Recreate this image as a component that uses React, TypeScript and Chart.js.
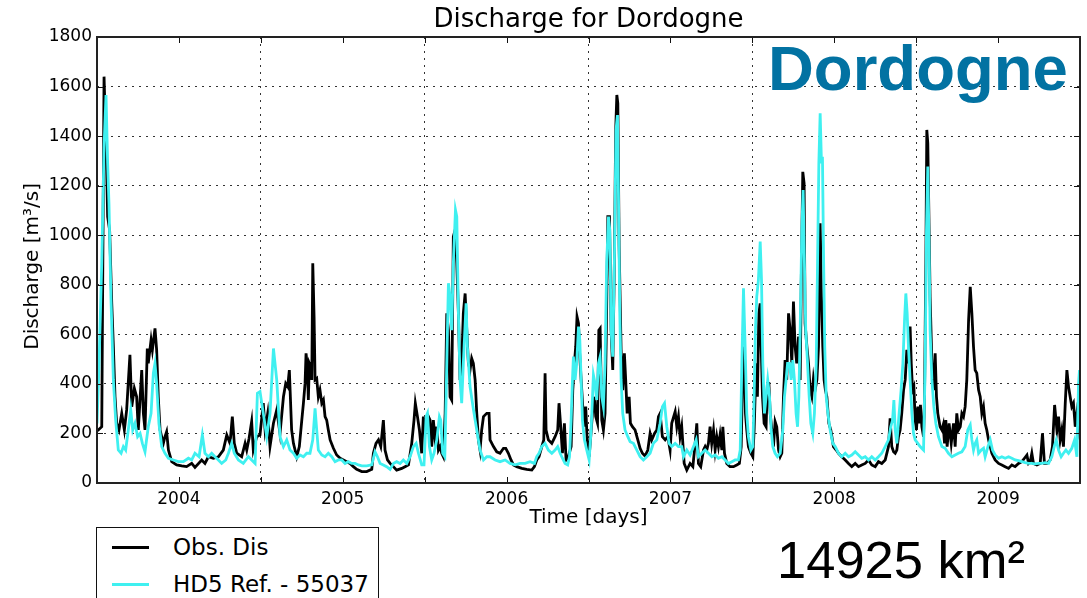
import React, { useEffect, useRef } from 'react';
import { Chart, registerables } from 'chart.js';

Chart.register(...registerables);

// ---- data (decimal year, discharge m³/s) ----
const YEAR_LABELS = ['2004', '2005', '2006', '2007', '2008', '2009'];
const Y_MIN = 0;
const Y_MAX = 1800;
const Y_STEP = 200;

const OBS_DIS: [number, number][] = [
  [2004.000,210],[2004.008,214],[2004.029,227],[2004.043,1640],[2004.059,1263],[2004.065,1075],[2004.077,1021],[2004.090,725],[2004.100,550],[2004.110,348],[2004.120,241],[2004.134,214],[2004.151,281],[2004.167,214],[2004.181,295],[2004.201,517],[2004.212,308],[2004.228,382],[2004.242,348],[2004.252,214],[2004.273,456],[2004.283,281],[2004.293,214],[2004.307,543],[2004.313,483],[2004.330,577],[2004.338,537],[2004.354,624],[2004.364,537],[2004.374,348],[2004.385,214],[2004.405,160],[2004.415,187],[2004.425,207],[2004.436,133],[2004.456,86],[2004.486,73],[2004.517,69],[2004.547,66],[2004.578,79],[2004.598,63],[2004.639,93],[2004.659,79],[2004.680,106],[2004.710,100],[2004.741,106],[2004.771,133],[2004.792,194],[2004.812,160],[2004.826,268],[2004.838,160],[2004.853,120],[2004.883,106],[2004.904,160],[2004.914,133],[2004.928,180],[2004.944,248],[2004.954,133],[2004.975,187],[2004.995,194],
  [2005.015,322],[2005.026,214],[2005.042,281],[2005.056,147],[2005.077,241],[2005.097,295],[2005.117,200],[2005.138,348],[2005.152,402],[2005.164,389],[2005.174,456],[2005.188,214],[2005.199,160],[2005.219,106],[2005.235,147],[2005.250,254],[2005.260,322],[2005.270,402],[2005.276,523],[2005.284,470],[2005.290,335],[2005.296,483],[2005.304,470],[2005.311,416],[2005.317,887],[2005.325,671],[2005.331,416],[2005.341,422],[2005.351,348],[2005.361,375],[2005.372,322],[2005.382,335],[2005.392,268],[2005.402,254],[2005.412,214],[2005.423,174],[2005.443,140],[2005.463,113],[2005.484,100],[2005.504,93],[2005.524,86],[2005.545,79],[2005.565,66],[2005.585,55],[2005.616,46],[2005.646,46],[2005.677,55],[2005.687,120],[2005.703,160],[2005.718,174],[2005.732,147],[2005.748,254],[2005.758,133],[2005.773,93],[2005.789,79],[2005.809,66],[2005.829,52],[2005.860,59],[2005.880,66],[2005.901,73],[2005.921,160],[2005.935,254],[2005.943,322],[2005.956,268],[2005.968,214],[2005.982,120],[2005.992,268],
  [2006.002,214],[2006.013,254],[2006.023,268],[2006.033,254],[2006.043,147],[2006.053,254],[2006.064,174],[2006.074,227],[2006.084,133],[2006.094,147],[2006.104,120],[2006.114,106],[2006.125,281],[2006.135,685],[2006.145,617],[2006.155,348],[2006.165,335],[2006.175,994],[2006.186,1021],[2006.196,887],[2006.206,685],[2006.216,416],[2006.226,483],[2006.236,685],[2006.247,765],[2006.257,617],[2006.267,483],[2006.277,456],[2006.287,503],[2006.297,483],[2006.308,416],[2006.318,281],[2006.328,174],[2006.338,133],[2006.348,214],[2006.359,268],[2006.379,281],[2006.393,281],[2006.399,174],[2006.420,147],[2006.440,126],[2006.460,120],[2006.481,140],[2006.495,140],[2006.511,120],[2006.527,93],[2006.542,73],[2006.562,66],[2006.593,59],[2006.623,55],[2006.654,52],[2006.670,66],[2006.684,93],[2006.698,106],[2006.715,147],[2006.727,174],[2006.735,443],[2006.741,214],[2006.755,174],[2006.776,160],[2006.796,187],[2006.812,214],[2006.820,322],[2006.829,241],[2006.841,120],[2006.853,241],[2006.863,93],[2006.877,106],[2006.894,147],[2006.904,375],[2006.914,483],[2006.922,550],[2006.930,671],[2006.939,644],[2006.945,537],[2006.955,416],[2006.965,308],[2006.975,227],[2006.983,308],[2006.991,187],
  [2007.004,106],[2007.012,174],[2007.024,281],[2007.036,348],[2007.044,268],[2007.055,241],[2007.063,617],[2007.071,624],[2007.081,254],[2007.091,214],[2007.101,281],[2007.109,617],[2007.118,1075],[2007.128,1075],[2007.138,617],[2007.148,456],[2007.158,887],[2007.166,1425],[2007.173,1566],[2007.179,1532],[2007.187,954],[2007.199,537],[2007.209,375],[2007.219,523],[2007.227,416],[2007.236,281],[2007.248,348],[2007.256,241],[2007.268,227],[2007.284,214],[2007.301,174],[2007.315,140],[2007.329,120],[2007.345,109],[2007.362,133],[2007.376,200],[2007.386,174],[2007.403,200],[2007.417,214],[2007.427,268],[2007.437,281],[2007.451,187],[2007.468,174],[2007.484,187],[2007.498,133],[2007.508,241],[2007.529,288],[2007.539,227],[2007.549,268],[2007.559,187],[2007.569,227],[2007.584,79],[2007.600,52],[2007.620,79],[2007.637,66],[2007.651,160],[2007.661,241],[2007.671,79],[2007.685,66],[2007.702,133],[2007.712,147],[2007.722,133],[2007.732,160],[2007.742,227],[2007.752,160],[2007.763,214],[2007.773,133],[2007.783,187],[2007.793,147],[2007.803,194],[2007.814,133],[2007.820,227],[2007.830,120],[2007.844,79],[2007.864,66],[2007.885,66],[2007.905,73],[2007.921,79],[2007.932,147],[2007.942,483],[2007.950,550],[2007.958,281],[2007.966,214],[2007.976,147],[2007.991,120],
  [2008.003,106],[2008.011,214],[2008.023,483],[2008.031,348],[2008.040,685],[2008.048,725],[2008.054,550],[2008.062,348],[2008.072,241],[2008.084,227],[2008.092,402],[2008.101,402],[2008.109,281],[2008.119,214],[2008.129,147],[2008.139,248],[2008.149,227],[2008.160,133],[2008.170,106],[2008.180,120],[2008.190,348],[2008.200,496],[2008.210,416],[2008.221,685],[2008.231,617],[2008.241,483],[2008.251,732],[2008.261,550],[2008.271,483],[2008.282,591],[2008.292,416],[2008.300,887],[2008.308,1256],[2008.316,1209],[2008.322,644],[2008.333,550],[2008.343,483],[2008.353,375],[2008.363,348],[2008.373,422],[2008.383,375],[2008.394,416],[2008.404,550],[2008.414,1048],[2008.422,752],[2008.430,550],[2008.438,416],[2008.446,375],[2008.455,348],[2008.467,241],[2008.479,214],[2008.495,147],[2008.512,133],[2008.526,120],[2008.546,106],[2008.567,93],[2008.587,79],[2008.607,66],[2008.628,79],[2008.648,66],[2008.668,73],[2008.689,79],[2008.709,93],[2008.729,73],[2008.750,66],[2008.770,86],[2008.790,79],[2008.811,93],[2008.831,147],[2008.841,261],[2008.851,147],[2008.862,126],[2008.872,120],[2008.882,133],[2008.892,187],[2008.902,214],[2008.912,281],[2008.923,375],[2008.933,416],[2008.943,537],[2008.953,483],[2008.963,631],[2008.970,483],[2008.978,375],[2008.986,389],[2008.994,254],
  [2009.002,214],[2009.010,308],[2009.018,241],[2009.026,315],[2009.035,227],[2009.045,187],[2009.051,348],[2009.059,887],[2009.065,1425],[2009.071,1371],[2009.079,1021],[2009.085,752],[2009.096,483],[2009.106,375],[2009.116,523],[2009.124,348],[2009.132,281],[2009.146,227],[2009.157,214],[2009.165,234],[2009.173,160],[2009.181,254],[2009.189,147],[2009.201,241],[2009.214,160],[2009.228,241],[2009.238,147],[2009.248,281],[2009.258,214],[2009.269,227],[2009.279,281],[2009.289,268],[2009.299,308],[2009.309,416],[2009.320,658],[2009.330,792],[2009.340,685],[2009.350,550],[2009.360,456],[2009.370,443],[2009.381,375],[2009.391,348],[2009.401,281],[2009.411,308],[2009.421,241],[2009.431,214],[2009.442,174],[2009.452,147],[2009.462,120],[2009.482,93],[2009.503,79],[2009.523,73],[2009.543,66],[2009.564,59],[2009.584,73],[2009.604,66],[2009.625,79],[2009.645,86],[2009.661,100],[2009.676,113],[2009.686,79],[2009.696,86],[2009.706,120],[2009.716,79],[2009.737,73],[2009.757,79],[2009.771,200],[2009.783,79],[2009.798,79],[2009.818,93],[2009.832,147],[2009.845,315],[2009.859,214],[2009.869,268],[2009.879,174],[2009.889,214],[2009.899,147],[2009.910,322],[2009.920,456],[2009.930,389],[2009.940,348],[2009.950,308],[2009.960,322],[2009.971,227],[2009.981,281],[2009.991,227],[2010.000,300],
];

const HD5_REF: [number, number][] = [
  [2004.000,240],[2004.012,470],[2004.029,887],[2004.043,1357],[2004.055,1566],[2004.065,1290],[2004.073,1129],[2004.085,752],[2004.100,416],[2004.114,254],[2004.130,133],[2004.147,120],[2004.161,147],[2004.175,133],[2004.191,214],[2004.206,295],[2004.218,214],[2004.232,241],[2004.248,187],[2004.263,200],[2004.277,160],[2004.293,126],[2004.313,227],[2004.330,281],[2004.344,443],[2004.354,483],[2004.364,402],[2004.378,241],[2004.395,147],[2004.415,120],[2004.436,100],[2004.466,93],[2004.496,86],[2004.527,86],[2004.558,100],[2004.578,93],[2004.598,120],[2004.623,106],[2004.643,194],[2004.659,120],[2004.680,106],[2004.700,120],[2004.720,106],[2004.741,93],[2004.761,79],[2004.786,93],[2004.802,120],[2004.822,160],[2004.838,120],[2004.863,93],[2004.893,79],[2004.924,106],[2004.944,93],[2004.965,79],[2004.979,362],[2004.995,369],
  [2005.015,281],[2005.036,187],[2005.056,281],[2005.077,543],[2005.097,416],[2005.117,187],[2005.138,147],[2005.158,174],[2005.178,133],[2005.199,120],[2005.219,100],[2005.239,113],[2005.260,106],[2005.280,120],[2005.300,120],[2005.317,174],[2005.331,301],[2005.341,214],[2005.351,133],[2005.372,113],[2005.392,106],[2005.412,120],[2005.433,106],[2005.453,86],[2005.473,93],[2005.494,93],[2005.514,79],[2005.534,86],[2005.555,79],[2005.575,79],[2005.596,73],[2005.616,69],[2005.646,69],[2005.677,73],[2005.697,126],[2005.712,106],[2005.728,79],[2005.748,73],[2005.768,66],[2005.789,55],[2005.809,79],[2005.829,86],[2005.850,79],[2005.870,93],[2005.891,79],[2005.911,106],[2005.931,147],[2005.948,160],[2005.962,120],[2005.982,73],[2005.996,73],
  [2006.009,268],[2006.017,281],[2006.029,147],[2006.043,93],[2006.057,120],[2006.074,174],[2006.090,268],[2006.098,254],[2006.110,120],[2006.123,106],[2006.131,348],[2006.139,617],[2006.145,806],[2006.155,752],[2006.165,617],[2006.175,887],[2006.188,1102],[2006.196,1075],[2006.206,685],[2006.216,416],[2006.226,322],[2006.236,483],[2006.253,725],[2006.261,550],[2006.277,389],[2006.298,295],[2006.318,214],[2006.338,133],[2006.359,93],[2006.379,106],[2006.399,106],[2006.430,93],[2006.460,86],[2006.491,93],[2006.521,79],[2006.552,73],[2006.582,79],[2006.613,79],[2006.643,86],[2006.670,79],[2006.684,106],[2006.698,120],[2006.715,147],[2006.735,160],[2006.755,133],[2006.776,120],[2006.796,133],[2006.812,147],[2006.827,120],[2006.841,100],[2006.857,79],[2006.873,73],[2006.884,106],[2006.894,254],[2006.902,416],[2006.908,510],[2006.918,416],[2006.928,483],[2006.939,631],[2006.947,577],[2006.955,416],[2006.963,254],[2006.975,174],[2006.989,133],
  [2007.004,93],[2007.016,214],[2007.030,436],[2007.040,402],[2007.050,335],[2007.061,483],[2007.071,510],[2007.081,348],[2007.091,308],[2007.101,483],[2007.111,887],[2007.122,1075],[2007.130,1021],[2007.138,617],[2007.148,510],[2007.158,887],[2007.168,1425],[2007.177,1485],[2007.183,1156],[2007.191,685],[2007.199,416],[2007.209,281],[2007.223,214],[2007.240,187],[2007.254,167],[2007.274,160],[2007.295,133],[2007.315,106],[2007.335,93],[2007.356,106],[2007.376,120],[2007.396,160],[2007.417,174],[2007.437,241],[2007.451,308],[2007.464,322],[2007.478,227],[2007.492,160],[2007.508,147],[2007.529,160],[2007.549,147],[2007.569,147],[2007.580,106],[2007.600,133],[2007.620,113],[2007.641,147],[2007.657,174],[2007.671,106],[2007.691,120],[2007.712,133],[2007.732,120],[2007.753,106],[2007.773,113],[2007.793,100],[2007.814,106],[2007.834,93],[2007.854,79],[2007.875,86],[2007.895,93],[2007.915,93],[2007.926,133],[2007.936,483],[2007.946,786],[2007.956,550],[2007.966,281],[2007.976,187],[2007.991,133],
  [2008.003,147],[2008.011,348],[2008.019,617],[2008.027,752],[2008.037,819],[2008.048,974],[2008.056,819],[2008.064,483],[2008.074,281],[2008.084,348],[2008.094,416],[2008.105,348],[2008.115,214],[2008.125,147],[2008.139,120],[2008.153,106],[2008.170,120],[2008.186,214],[2008.196,348],[2008.206,416],[2008.215,483],[2008.227,483],[2008.237,416],[2008.247,496],[2008.257,416],[2008.267,281],[2008.276,227],[2008.284,348],[2008.292,617],[2008.302,1021],[2008.310,1182],[2008.318,887],[2008.326,617],[2008.337,483],[2008.347,348],[2008.357,241],[2008.369,200],[2008.379,281],[2008.390,483],[2008.398,887],[2008.406,1290],[2008.414,1492],[2008.422,1290],[2008.428,1317],[2008.434,954],[2008.442,550],[2008.451,348],[2008.461,281],[2008.475,214],[2008.491,160],[2008.506,147],[2008.526,120],[2008.546,106],[2008.567,120],[2008.587,106],[2008.607,113],[2008.628,126],[2008.648,113],[2008.668,100],[2008.689,106],[2008.709,93],[2008.729,106],[2008.750,93],[2008.770,106],[2008.790,120],[2008.811,147],[2008.831,174],[2008.845,227],[2008.856,254],[2008.864,335],[2008.872,214],[2008.882,160],[2008.896,281],[2008.908,375],[2008.919,483],[2008.929,658],[2008.937,765],[2008.945,685],[2008.953,550],[2008.963,416],[2008.974,281],[2008.984,200],[2008.994,174],
  [2009.010,160],[2009.024,147],[2009.045,133],[2009.055,483],[2009.063,1021],[2009.071,1277],[2009.079,954],[2009.085,617],[2009.096,416],[2009.108,308],[2009.120,241],[2009.136,187],[2009.157,147],[2009.177,140],[2009.197,120],[2009.218,106],[2009.238,113],[2009.258,120],[2009.279,126],[2009.299,147],[2009.315,214],[2009.330,234],[2009.340,174],[2009.350,133],[2009.360,160],[2009.370,174],[2009.381,120],[2009.397,133],[2009.411,140],[2009.421,106],[2009.438,147],[2009.452,174],[2009.466,133],[2009.482,113],[2009.503,100],[2009.523,106],[2009.543,100],[2009.564,106],[2009.584,100],[2009.604,93],[2009.625,90],[2009.645,86],[2009.665,82],[2009.686,79],[2009.706,79],[2009.726,77],[2009.747,79],[2009.767,79],[2009.787,82],[2009.808,79],[2009.828,106],[2009.845,153],[2009.855,174],[2009.869,133],[2009.885,106],[2009.899,120],[2009.914,133],[2009.930,120],[2009.950,140],[2009.967,174],[2009.981,106],[2009.991,402],[2009.997,456],
];

const OBS_COLOR = '#000000';
const REF_COLOR = '#3ff0f0';
const FONT = '"DejaVu Sans", sans-serif';

const framePlugin = {
  id: 'frameTicks',
  afterDraw(chart: any) {
    const { ctx, chartArea: a, scales } = chart;
    const len = 6;
    ctx.save();
    ctx.strokeStyle = '#111';
    ctx.lineWidth = 1;
    ctx.beginPath();
    for (const t of scales.x.ticks) {
      const px = Math.round(scales.x.getPixelForValue(t.value)) + 0.5;
      ctx.moveTo(px, a.top);
      ctx.lineTo(px, a.top + len);
      ctx.moveTo(px, a.bottom);
      ctx.lineTo(px, a.bottom - len);
    }
    for (const t of scales.y.ticks) {
      const py = Math.round(scales.y.getPixelForValue(t.value)) + 0.5;
      ctx.moveTo(a.left, py);
      ctx.lineTo(a.left + len, py);
      ctx.moveTo(a.right, py);
      ctx.lineTo(a.right - len, py);
    }
    ctx.stroke();
    ctx.lineWidth = 2;
    ctx.strokeStyle = '#222';
    ctx.strokeRect(a.left, a.top, a.right - a.left, a.bottom - a.top);
    ctx.restore();
  },
};

export default function App() {
  const ref = useRef<HTMLCanvasElement | null>(null);

  useEffect(() => {
    const canvas = ref.current;
    if (!canvas) return;
    const chart = new Chart(canvas, {
      type: 'line',
      data: {
        datasets: [
          {
            label: 'Obs. Dis',
            data: OBS_DIS.map(([x, y]) => ({ x, y })),
            borderColor: OBS_COLOR,
            backgroundColor: OBS_COLOR,
            borderWidth: 2.8,
            pointRadius: 0,
            tension: 0,
            order: 2,
          },
          {
            label: 'HD5 Ref. - 55037',
            data: HD5_REF.map(([x, y]) => ({ x, y })),
            borderColor: REF_COLOR,
            backgroundColor: REF_COLOR,
            borderWidth: 2.8,
            pointRadius: 0,
            tension: 0,
            order: 1,
          },
        ],
      },
      options: {
        animation: false,
        responsive: false,
        devicePixelRatio: 1,
        layout: { padding: { left: 0, right: 7, top: 0, bottom: 0 } },
        plugins: {
          legend: { display: false },
          tooltip: { enabled: false },
          title: {
            display: true,
            text: 'Discharge for Dordogne',
            fullSize: false,
            color: '#000',
            font: { family: FONT, size: 26, weight: 'normal' },
            padding: { top: 5, bottom: 0.8 },
          },
        },
        scales: {
          x: {
            type: 'linear',
            min: Number(YEAR_LABELS[0]),
            max: Number(YEAR_LABELS[YEAR_LABELS.length - 1]) + 1,
            afterBuildTicks: (scale: any) => {
              const ticks: { value: number }[] = [];
              YEAR_LABELS.forEach((y) => {
                ticks.push({ value: Number(y) });
                ticks.push({ value: Number(y) + 0.5 });
              });
              ticks.push({ value: Number(YEAR_LABELS[YEAR_LABELS.length - 1]) + 1 });
              scale.ticks = ticks;
            },
            afterFit: (scale: any) => {
              scale.height = 115;
            },
            grid: {
              drawTicks: false,
              lineWidth: 1,
              color: (ctx: any) =>
                ctx.tick && Math.abs(ctx.tick.value % 1) < 1e-9 ? '#333' : 'rgba(0,0,0,0)',
            },
            border: { display: false, dash: [2, 5] },
            ticks: {
              autoSkip: false,
              maxRotation: 0,
              padding: 6,
              color: '#000',
              font: { family: FONT, size: 17 },
              callback: (v: any) => {
                const n = Number(v);
                return Math.abs((n % 1) - 0.5) < 1e-9 ? String(Math.floor(n)) : '';
              },
            },
            title: {
              display: true,
              text: 'Time [days]',
              color: '#000',
              font: { family: FONT, size: 20 },
              padding: { top: 0, bottom: 68 },
            },
          },
          y: {
            type: 'linear',
            min: Y_MIN,
            max: Y_MAX,
            afterFit: (scale: any) => {
              scale.width = 97;
            },
            grid: { drawTicks: false, lineWidth: 1, color: '#333' },
            border: { display: false, dash: [2, 5] },
            ticks: {
              stepSize: Y_STEP,
              padding: 5,
              color: '#000',
              font: { family: FONT, size: 17 },
              callback: (v: any) => String(v),
            },
            title: {
              display: true,
              text: 'Discharge [m³/s]\u00a0\u00a0',
              color: '#000',
              font: { family: FONT, size: 20 },
              padding: { top: 21, bottom: 0 },
            },
          },
        },
      } as any,
      plugins: [framePlugin],
    });
    return () => chart.destroy();
  }, []);

  return (
    <div
      style={{
        position: 'absolute',
        left: 0,
        top: 0,
        width: 1087,
        height: 598,
        overflow: 'hidden',
        background: '#fff',
      }}
    >
      <canvas ref={ref} width={1087} height={598} style={{ display: 'block', width: 1087, height: 598 }} />
      <div
        style={{
          position: 'absolute',
          left: 768,
          top: 37,
          font: 'bold 63.5px "Liberation Sans", Arial, sans-serif',
          lineHeight: 1,
          color: '#0272a2',
          whiteSpace: 'nowrap',
        }}
      >
        Dordogne
      </div>
      <div
        style={{
          position: 'absolute',
          left: 777,
          top: 534,
          font: '52.5px "Liberation Sans", Arial, sans-serif',
          lineHeight: 1,
          color: '#000',
          whiteSpace: 'nowrap',
        }}
      >
        14925 km²
      </div>
      <div
        style={{
          position: 'absolute',
          left: 96,
          top: 527,
          width: 283,
          height: 100,
          border: '1.5px solid #111',
          background: '#fff',
          boxSizing: 'border-box',
        }}
      />
      <div style={{ position: 'absolute', left: 112, top: 546, width: 37, height: 3, background: OBS_COLOR }} />
      <div style={{ position: 'absolute', left: 112, top: 583, width: 37, height: 3, background: REF_COLOR }} />
      <div
        style={{
          position: 'absolute',
          left: 173,
          top: 536,
          font: `23px ${FONT}`,
          lineHeight: 1,
          color: '#000',
          whiteSpace: 'nowrap',
        }}
      >
        Obs. Dis
      </div>
      <div
        style={{
          position: 'absolute',
          left: 173,
          top: 573,
          font: `23px ${FONT}`,
          lineHeight: 1,
          color: '#000',
          whiteSpace: 'nowrap',
        }}
      >
        HD5 Ref. - 55037
      </div>
    </div>
  );
}
